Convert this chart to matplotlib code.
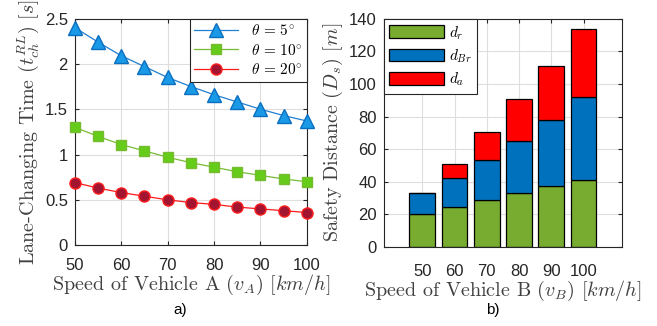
import numpy as np
import matplotlib
matplotlib.use("Agg")
import matplotlib.pyplot as plt

plt.rcParams['font.family'] = ['Liberation Sans', 'DejaVu Sans']
plt.rcParams['mathtext.fontset'] = 'cm'
plt.rcParams['axes.unicode_minus'] = False

# panel a) lane-changing time
speed_a = [50, 55, 60, 65, 70, 75, 80, 85, 90, 95, 100]
t_5deg = [2.40, 2.24, 2.09, 1.97, 1.85, 1.75, 1.66, 1.58, 1.50, 1.43, 1.37]
t_10deg = [1.30, 1.20, 1.11, 1.04, 0.97, 0.91, 0.86, 0.81, 0.77, 0.73, 0.70]
t_20deg = [0.69, 0.63, 0.58, 0.54, 0.50, 0.47, 0.45, 0.42, 0.40, 0.38, 0.36]

# panel b) safety distance components
speed_b = ['50', '60', '70', '80', '90', '100']
d_r = [20.5, 24.6, 29.1, 33.2, 37.5, 41.4]
d_Br = [12.7, 18.0, 24.3, 32.1, 40.5, 50.4]
d_a = [0, 8.6, 16.9, 25.2, 33.2, 41.7]

axcol = '#262626'
labcol = '#404040'
gridcol = '#dedede'
labfont = dict(family='cmr10', fontsize=14.5, color=labcol)

fig = plt.figure(figsize=(6.57, 3.26), dpi=100)
ax1 = fig.add_axes([0.114, 0.248, 0.353, 0.695])
ax2 = fig.add_axes([0.584, 0.242, 0.363, 0.701])

for ax in (ax1, ax2):
    ax.set_axisbelow(True)
    ax.grid(True, color=gridcol, linewidth=0.8)
    ax.tick_params(direction='in', top=True, right=True, labelsize=12,
                   colors=axcol, length=3, width=0.8)
    ax.tick_params(axis='y', pad=5)
    for s in ax.spines.values():
        s.set_color(axcol)
        s.set_linewidth(0.8)

# ---- a)
ax1.plot(speed_a, t_5deg, '-^', color='#1f7fd0', lw=0.9, ms=10, clip_on=False,
         mfc='#1a9ae6', mec='#0a6fc0', label=r'$\theta\,=\,5^{\circ}$', zorder=3)
ax1.plot(speed_a, t_10deg, '-s', color='#77bb33', lw=0.9, ms=6.5, clip_on=False,
         mfc='#66cc1a', mec='#77bb33', label=r'$\theta\,=\,10^{\circ}$', zorder=3)
ax1.plot(speed_a, t_20deg, '-o', color='#ff1a1a', lw=0.9, ms=8, clip_on=False,
         mfc='#a2142f', mec='#ff2020', label=r'$\theta\,=\,20^{\circ}$', zorder=3)
ax1.set_xlim(50, 100)
ax1.set_ylim(0, 2.5)
ax1.set_xticks([50, 60, 70, 80, 90, 100])
ax1.set_yticks([0, 0.5, 1, 1.5, 2, 2.5])
ax1.set_yticklabels(['0', '0.5', '1', '1.5', '2', '2.5'])
ax1.tick_params(axis='x', pad=9)
ax1.set_xlabel(r'Speed of Vehicle A $(v_A)$ $[km/h]$', labelpad=0, **labfont)
ax1.set_ylabel(r'Lane-Changing Time $(t_{ch}^{RL})$ $[s]$', labelpad=3, **labfont)
leg1 = ax1.legend(loc='upper right', fontsize=11, fancybox=False,
                  framealpha=1, edgecolor=axcol, borderaxespad=0,
                  handlelength=2.9, borderpad=0.3, labelspacing=0.3)
leg1.get_frame().set_linewidth(0.8)
leg1.set_zorder(5)

# ---- b)
xpos = np.arange(1, len(speed_b) + 1)
bottom2 = np.array(d_r) + np.array(d_Br)
ax2.bar(xpos, d_r, 0.8, color='#77ac30', edgecolor='black', lw=0.9, label=r'$d_r$')
ax2.bar(xpos, d_Br, 0.8, bottom=d_r, color='#0072bd', edgecolor='black', lw=0.9,
        label=r'$d_{Br}$')
ax2.bar(xpos, d_a, 0.8, bottom=bottom2, color='#ff0000', edgecolor='black', lw=0.9,
        label=r'$d_a$')
ax2.set_xlim(-0.2, 7.2)
ax2.set_ylim(0, 140)
ax2.set_xticks(xpos)
ax2.set_xticklabels(speed_b)
ax2.tick_params(axis='x', pad=12)
ax2.set_yticks(range(0, 141, 20))
ax2.set_xlabel(r'Speed of Vehicle B $(v_B)$ $[km/h]$', labelpad=0, **labfont)
ax2.set_ylabel(r'Safety Distance $(D_s)$ $[m]$', labelpad=3, **labfont)
leg2 = ax2.legend(loc='upper left', fontsize=11, fancybox=False,
                  framealpha=1, edgecolor=axcol, borderaxespad=0,
                  handlelength=3.6, handleheight=0.9, borderpad=0.35,
                  labelspacing=0.38, handletextpad=0.3)
leg2.get_frame().set_linewidth(0.8)

fig.text(0.274, 0.048, 'a)', ha='center', va='center', fontsize=11, color='black')
fig.text(0.750, 0.048, 'b)', ha='center', va='center', fontsize=11, color='black')

fig.savefig('out.png', dpi=100)
